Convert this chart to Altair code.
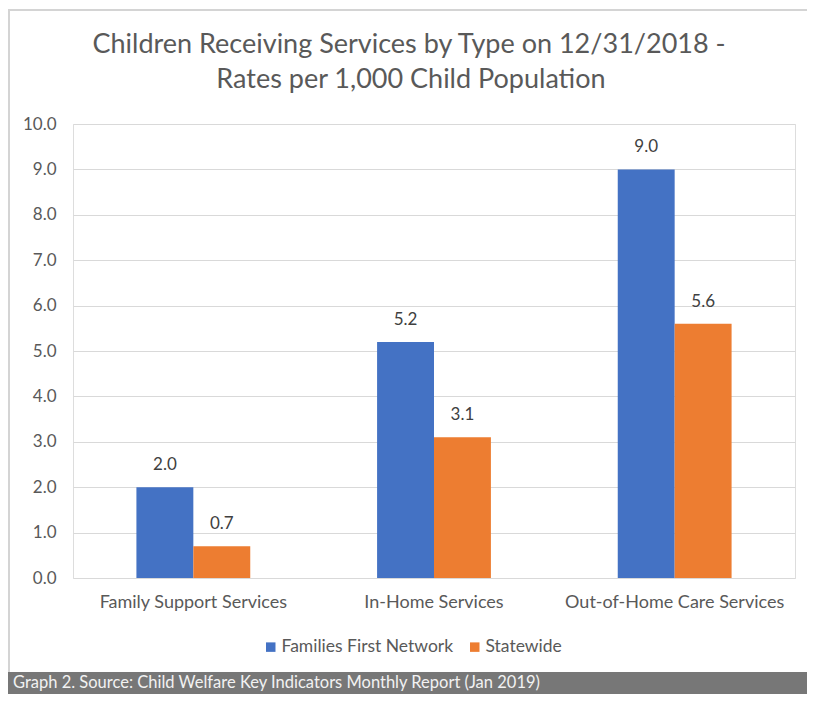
import altair as alt
import pandas as pd

categories = ["Family Support Services", "In-Home Services", "Out-of-Home Care Services"]
series_names = ["Families First Network", "Statewide"]
ffn_values = [2.0, 5.2, 9.0]
statewide_values = [0.7, 3.1, 5.6]
colors = ["#4472C4", "#ED7D31"]
title_lines = ["Children Receiving Services by Type on 12/31/2018 -", "Rates per 1,000 Child Population"]
footer_text = "Graph 2. Source: Child Welfare Key Indicators Monthly Report (Jan 2019)"

rows = []
for c, a, b in zip(categories, ffn_values, statewide_values):
    rows.append({"category": c, "series": series_names[0], "value": a})
    rows.append({"category": c, "series": series_names[1], "value": b})
df = pd.DataFrame(rows)

FONT = "Lato"
W, H = 722, 454
LBL = 17.5

x_enc = alt.X("category:N", sort=categories, title=None,
              scale=alt.Scale(paddingInner=0.527, paddingOuter=0.2635),
              axis=alt.Axis(labelAngle=0, labelFontSize=18, labelColor="#595959",
                            labelFont=FONT, ticks=False, domain=False, labelPadding=15,
                            grid=False, labelLimit=400))
xoff = alt.XOffset("series:N", sort=series_names)

base = alt.Chart(df)
bars = base.mark_bar().encode(
    x=x_enc,
    xOffset=xoff,
    y=alt.Y("value:Q", title=None,
            scale=alt.Scale(domain=[0, 10]),
            axis=alt.Axis(values=[i for i in range(11)], format=".1f", labelFontSize=17,
                          labelColor="#595959", labelFont=FONT, ticks=False, domain=False,
                          labelPadding=17, gridColor="#d9d9d9", gridWidth=1)),
    color=alt.Color("series:N", sort=series_names,
                    scale=alt.Scale(domain=series_names, range=colors),
                    legend=alt.Legend(title=None, orient="none", direction="horizontal",
                                      legendX=189, legendY=514, symbolType="square",
                                      symbolSize=90, symbolStrokeWidth=0,
                                      labelFontSize=LBL, labelColor="#595959",
                                      labelFont=FONT, columnPadding=12, labelOffset=2,
                                      labelLimit=400)),
)
labels = base.mark_text(baseline="bottom", dy=-13, fontSize=17, color="#404040",
                        font=FONT).encode(
    x=alt.X("category:N", sort=categories),
    xOffset=xoff,
    y="value:Q",
    text=alt.Text("value:Q", format=".1f"),
)

one = alt.Chart(pd.DataFrame({"k": [0]}))
title1 = one.mark_text(align="center", baseline="middle", fontSize=27, color="#595959",
                       font=FONT, text=title_lines[0]).encode(
    x=alt.value(336), y=alt.value(-79))
title2 = one.mark_text(align="center", baseline="middle", fontSize=27, color="#595959",
                       font=FONT, text=title_lines[1]).encode(
    x=alt.value(338), y=alt.value(-44))
footer_rect = one.mark_rect(color="#777777").encode(
    x=alt.value(-65), x2=alt.value(734), y=alt.value(548), y2=alt.value(570))
footer_label = one.mark_text(align="left", baseline="middle", fontSize=16.5, color="#f2f2f2",
                             font=FONT, text=footer_text).encode(
    x=alt.value(-60), y=alt.value(559))
top_border = one.mark_rule(color="#d4d4d4", strokeWidth=2).encode(
    x=alt.value(-65), x2=alt.value(734), y=alt.value(-114))
left_border = one.mark_rule(color="#d4d4d4", strokeWidth=2).encode(
    x=alt.value(-64), y=alt.value(-115), y2=alt.value(548))

chart = alt.layer(bars, labels, title1, title2, footer_rect, footer_label,
                  top_border, left_border).properties(
    width=W, height=H,
    autosize=alt.AutoSizeParams(type="none"),
    padding={"left": 65, "top": 116, "right": 12, "bottom": 116},
).configure_view(stroke=None).configure(background="white")

chart.save("out.html", embed_options={"renderer": "svg", "actions": False})
